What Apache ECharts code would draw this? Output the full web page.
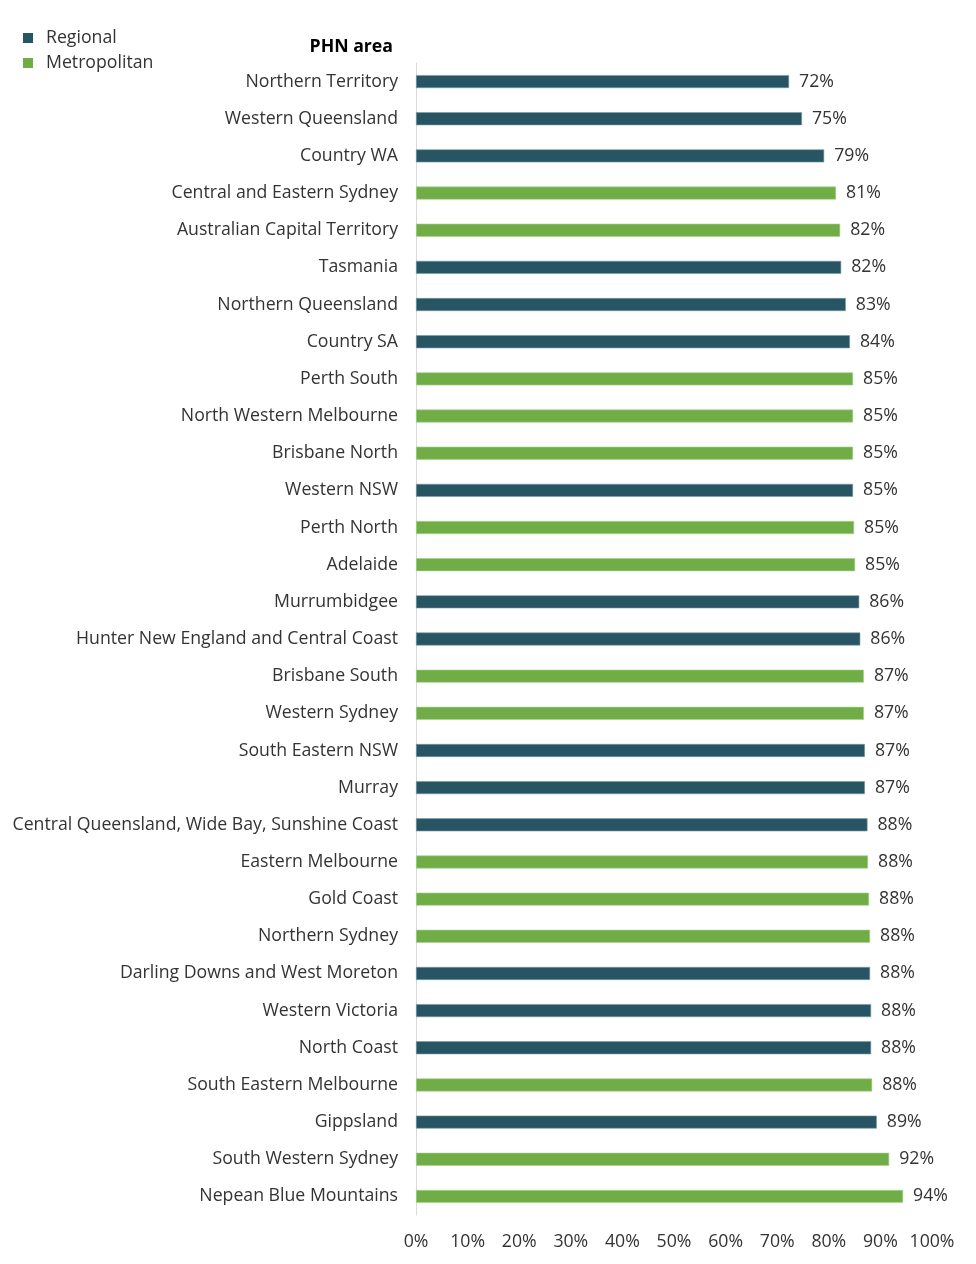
<!DOCTYPE html>
<html>
<head>
<meta charset="utf-8">
<script src="https://cdn.jsdelivr.net/npm/echarts@6/dist/echarts.min.js"></script>
<style>
  html, body { margin: 0; padding: 0; background: #fff; }
  #chart { width: 976px; height: 1264px; }
</style>
</head>
<body>
<div id="chart"></div>
<script>
  // PHN areas, top to bottom
  const categories = [
    'Northern Territory', 'Western Queensland', 'Country WA', 'Central and Eastern Sydney',
    'Australian Capital Territory', 'Tasmania', 'Northern Queensland', 'Country SA',
    'Perth South', 'North Western Melbourne', 'Brisbane North', 'Western NSW',
    'Perth North', 'Adelaide', 'Murrumbidgee', 'Hunter New England and Central Coast',
    'Brisbane South', 'Western Sydney', 'South Eastern NSW', 'Murray',
    'Central Queensland, Wide Bay, Sunshine Coast', 'Eastern Melbourne', 'Gold Coast',
    'Northern Sydney', 'Darling Downs and West Moreton', 'Western Victoria', 'North Coast',
    'South Eastern Melbourne', 'Gippsland', 'South Western Sydney', 'Nepean Blue Mountains'
  ]
  // percent values
  const values = [
    72.3, 74.8, 79.1, 81.4, 82.2, 82.4, 83.3, 84.1,
    84.7, 84.7, 84.7, 84.7, 84.9, 85.1, 85.9, 86.1,
    86.8, 86.8, 87.0, 87.0, 87.5, 87.6, 87.8, 88.0,
    88.0, 88.2, 88.2, 88.4, 89.3, 91.7, 94.4
  ]
  // R = Regional, M = Metropolitan
  const areaType = [
    'R', 'R', 'R', 'M', 'M', 'R', 'R', 'R',
    'M', 'M', 'M', 'R', 'M', 'M', 'R', 'R',
    'M', 'M', 'R', 'R', 'R', 'M', 'M', 'M',
    'R', 'R', 'R', 'M', 'R', 'M', 'M'
  ]
  const xTicks = [0, 10, 20, 30, 40, 50, 60, 70, 80, 90, 100]

  const font = "'Open Sans', 'Noto Sans', sans-serif"
  const fontSize = 17.7
  const textColor = '#333'

  const regional = values.map((v, i) => areaType[i] === 'R' ? v : '-')
  const metro = values.map((v, i) => areaType[i] === 'M' ? v : '-')

  const barLabel = {
    show: true,
    position: 'right',
    distance: 10,
    color: textColor,
    fontSize: fontSize,
    fontFamily: font,
    formatter: p => Math.round(p.value) + '%'
  }

  let myChart = echarts.init(document.getElementById('chart'))
  myChart.setOption({
    animation: false,
    textStyle: { fontFamily: font },
    legend: {
      orient: 'vertical',
      left: 18,
      top: 24,
      itemWidth: 10,
      itemHeight: 10,
      itemGap: 7,
      icon: 'rect',
      itemStyle: { borderWidth: 0 },
      textStyle: { fontSize: fontSize, color: textColor, fontFamily: font, padding: [0, 0, 0, 8] },
      data: ['Regional', 'Metropolitan']
    },
    title: {
      text: 'PHN area',
      right: 578,
      top: 33,
      textStyle: { fontSize: fontSize, fontWeight: 'bold', color: '#000', fontFamily: font }
    },
    grid: {
      left: 416,
      right: 44,
      top: 63,
      bottom: 49
    },
    xAxis: {
      type: 'value',
      min: xTicks[0],
      max: xTicks[xTicks.length - 1],
      interval: 10,
      splitLine: { show: false },
      axisLine: { show: false },
      axisTick: { show: false },
      axisLabel: {
        color: textColor,
        fontSize: fontSize,
        fontFamily: font,
        margin: 18,
        formatter: '{value}%'
      }
    },
    yAxis: {
      type: 'category',
      inverse: true,
      data: categories,
      axisLine: { show: true, lineStyle: { color: '#d9d9d9', width: 1 } },
      axisTick: { show: false },
      axisLabel: {
        color: textColor,
        fontSize: fontSize,
        fontFamily: font,
        margin: 18
      }
    },
    series: [{
      name: 'Regional',
      type: 'bar',
      data: regional,
      barWidth: 13,
      barGap: '-100%',
      itemStyle: { color: '#275563', borderColor: '#7b9aa5', borderWidth: 0.6 },
      label: barLabel
    }, {
      name: 'Metropolitan',
      type: 'bar',
      data: metro,
      barWidth: 13,
      itemStyle: { color: '#71ad47', borderColor: '#a9d18e', borderWidth: 0.6 },
      label: barLabel
    }]
  })
</script>
</body>
</html>
